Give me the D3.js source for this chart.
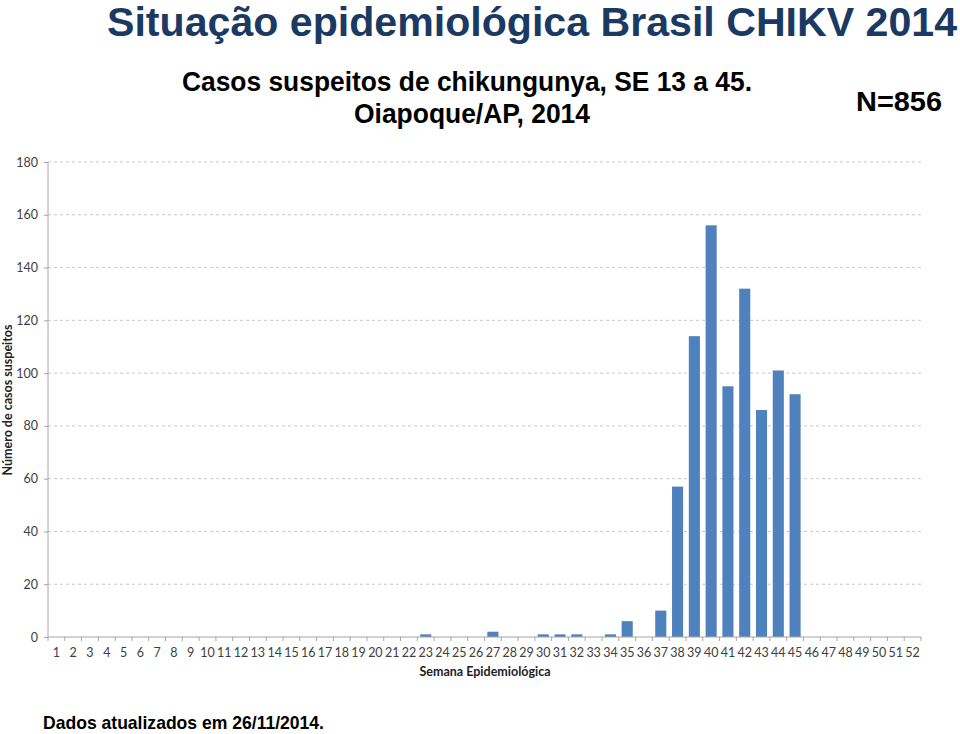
<!DOCTYPE html>
<html><head><meta charset="utf-8">
<script src="https://cdn.jsdelivr.net/npm/d3@7"></script>
<style>body{margin:0;background:#fff}svg{display:block}</style>
</head><body>
<svg id="c" width="960" height="734"></svg>
<script>
const weeks = d3.range(1, 53).map(String);
const cases = [0,0,0,0,0,0,0,0,0,0,0,0,0,0,0,0,0,0,0,0,0,0,1,0,0,0,2,0,0,1,1,1,0,1,6,0,10,57,114,156,95,132,86,101,92,0,0,0,0,0,0,0];
const yTicks = [0,20,40,60,80,100,120,140,160,180];
const title = "Situação epidemiológica Brasil CHIKV 2014";
const sub1 = "Casos suspeitos de chikungunya, SE 13 a 45.";
const sub2 = "Oiapoque/AP, 2014";
const nLabel = "N=856";
const footer = "Dados atualizados em 26/11/2014.";
const yTitle = "Número de casos suspeitos";
const xTitle = "Semana Epidemiológica";

const svg = d3.select("#c");
const m = {l:48, r:921, t:162, b:637};
const x = d3.scaleBand().domain(weeks).range([m.l, m.r]).paddingInner(0.34).paddingOuter(0.17);
const y = d3.scaleLinear().domain([0,180]).range([m.b, m.t]);
const calib = "Lato, 'Open Sans', sans-serif";
const arial = "'Liberation Sans', Arial, sans-serif";

// grid
svg.append("g").selectAll("line").data(yTicks.filter(d=>d>0)).join("line")
  .attr("x1", m.l).attr("x2", m.r).attr("y1", d=>y(d)).attr("y2", d=>y(d))
  .attr("stroke", "#c8c8c8").attr("stroke-dasharray", "3,3").attr("stroke-width", 1);

// bars
svg.append("g").selectAll("rect").data(weeks.map((w,i)=>({w, v:cases[i]})).filter(d=>d.v>0)).join("rect")
  .attr("x", d=>x(d.w)).attr("width", x.bandwidth())
  .attr("y", d=>y(d.v)).attr("height", d=>y(0)-y(d.v))
  .attr("fill", "#4f81bd");

// y axis
const ya = svg.append("g").attr("transform", `translate(${m.l},0)`)
  .call(d3.axisLeft(y).tickValues(yTicks).tickSize(4).tickPadding(6));
ya.select(".domain").attr("stroke", "#a6a6a6").attr("d", `M0,${m.t}V${m.b}`);
ya.selectAll(".tick line").attr("stroke", "#a6a6a6");
ya.selectAll("text").attr("font-family", calib).attr("font-size", 12.5).attr("fill", "#404040");

// x axis
const xa = svg.append("g").attr("transform", `translate(0,${m.b})`)
  .call(d3.axisBottom(x).tickSize(0).tickPadding(11));
xa.select(".domain").attr("stroke", "#a6a6a6").attr("d", `M${m.l},0H${m.r}`);
xa.selectAll("text").attr("font-family", calib).attr("font-size", 12.5).attr("fill", "#404040");
const step = x.step();
svg.append("g").selectAll("line").data(d3.range(0, 53)).join("line")
  .attr("x1", i=>m.l + i*step).attr("x2", i=>m.l + i*step)
  .attr("y1", m.b).attr("y2", m.b+4).attr("stroke", "#a6a6a6");

// axis titles
svg.append("text").attr("transform", "translate(12,400) rotate(-90)").attr("text-anchor","middle")
  .attr("font-family", calib).attr("font-weight","bold").attr("font-size",12.5).attr("fill","#222")
  .text(yTitle);
svg.append("text").attr("x", 485).attr("y", 676).attr("text-anchor","middle")
  .attr("font-family", calib).attr("font-weight","bold").attr("font-size",12.5).attr("fill","#222")
  .text(xTitle);

// titles
svg.append("text").attr("x", 107).attr("y", 36).attr("textLength", 850).attr("lengthAdjust","spacingAndGlyphs")
  .attr("font-family", arial).attr("font-weight","bold").attr("font-size",40).attr("fill","#1b3a63")
  .text(title);
svg.append("text").attr("x", 182).attr("y", 91).attr("textLength", 570).attr("lengthAdjust","spacingAndGlyphs")
  .attr("font-family", arial).attr("font-weight","bold").attr("font-size",28).attr("fill","#000")
  .text(sub1);
svg.append("text").attr("x", 354).attr("y", 123).attr("textLength", 236).attr("lengthAdjust","spacingAndGlyphs")
  .attr("font-family", arial).attr("font-weight","bold").attr("font-size",28).attr("fill","#000")
  .text(sub2);
svg.append("text").attr("x", 856).attr("y", 111).attr("textLength", 86).attr("lengthAdjust","spacingAndGlyphs")
  .attr("font-family", arial).attr("font-weight","bold").attr("font-size",28).attr("fill","#000")
  .text(nLabel);
svg.append("text").attr("x", 43).attr("y", 729).attr("textLength", 281).attr("lengthAdjust","spacingAndGlyphs")
  .attr("font-family", arial).attr("font-weight","bold").attr("font-size",19).attr("fill","#000")
  .text(footer);
</script>
</body></html>
